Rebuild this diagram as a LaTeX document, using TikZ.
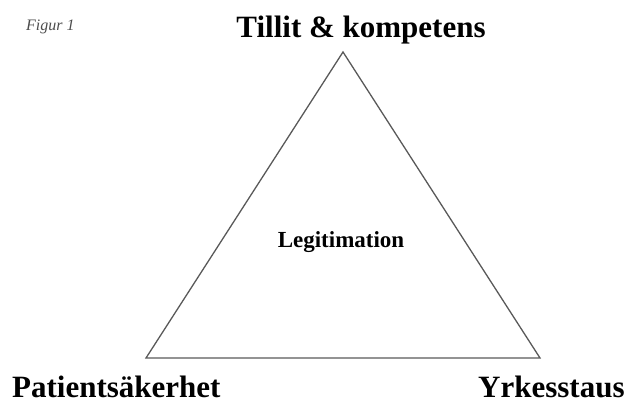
\documentclass[tikz,border=0pt]{standalone}
\usepackage{fontspec}
\setmainfont{Liberation Serif}
\begin{document}
\begin{tikzpicture}[x=1pt,y=-1pt,
  lbl/.style={font=\bfseries\fontsize{31}{36}\selectfont, inner sep=0pt, anchor=base},
  edge/.style={draw=black!65, line width=1.3pt, line join=miter}]
\useasboundingbox (0,0) rectangle (629,404);
\coordinate (A) at (343,52);
\coordinate (B) at (146,358);
\coordinate (C) at (540,358);
\draw[edge] (A) -- (B) -- (C) -- cycle;
\node[inner sep=0pt, anchor=base west, font=\itshape\fontsize{16}{19}\selectfont, text=black!70] (fig) at (26,31) {Figur 1};
\node[lbl] (top) at (361,38) {Tillit \& kompetens};
\node[lbl, anchor=base west] (pat) at (12,397) {Patientsäkerhet};
\node[lbl, anchor=base west] (yrk) at (478,397) {Yrkesstaus};
\node[inner sep=0pt, anchor=base, font=\bfseries\fontsize{23}{27}\selectfont] (leg) at (341,247) {Legitimation};
\end{tikzpicture}
\end{document}
